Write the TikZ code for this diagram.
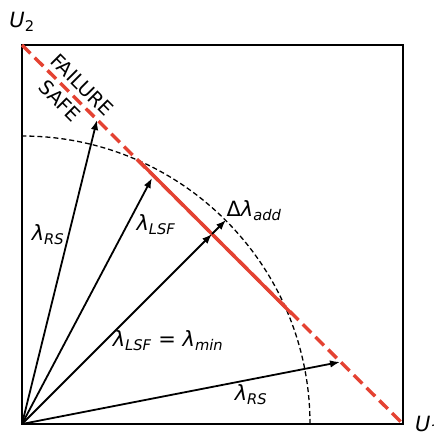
\documentclass[tikz,border=0pt]{standalone}
\usepackage{fontspec}
\setmainfont{DejaVu Sans}
\usepackage{xcolor}
\usetikzlibrary{arrows.meta}
\definecolor{lsfred}{RGB}{228,66,50}
\newcommand{\lam}[1]{\textit{λ}\textsubscript{\itshape #1}}

\begin{document}
\begin{tikzpicture}[x=1pt,y=1pt,
  vec/.style={line width=1.8pt,-{Latex[length=10pt,width=7.5pt]}},
  lbl/.style={font=\fontsize{21}{24}\selectfont,inner sep=0pt},
  zone/.style={font=\fontsize{19.5}{22}\selectfont,inner sep=0pt,rotate=-45}]
  \useasboundingbox (-22,-8) rectangle (412,424);
  % frame and axis labels
  \draw[line width=1.6pt] (0,0) rectangle (381,379);
  \node[lbl] (u2) at (0,402) {\textit{U}\textsubscript{2}};
  \node[lbl,anchor=west] (u1) at (393,-2) {\textit{U}\textsubscript{1}};
  % points used by the vectors
  \coordinate (O) at (0,0);
  \coordinate (tl) at (0,379);
  \coordinate (br) at (381,0);
  \coordinate (rs1) at (75,304);
  \coordinate (lsf) at (130,246);
  \coordinate (mpp) at (190,190);
  \coordinate (add) at (204,204);
  \coordinate (rs2) at (318,62);
  % reliability circle
  \draw[dashed,dash pattern=on 5pt off 3pt,line width=1.3pt]
    (288,0) arc[start angle=0,end angle=90,radius=288];
  % limit state
  \draw[lsfred,line width=3.4pt,dash pattern=on 12pt off 6pt] (tl)--(br);
  \draw[lsfred,line width=3.4pt] (117,263)--(270,110);
  \node[zone] (fail) at (60,339) {FAILURE};
  \node[zone] (safe) at (38,323) {SAFE};
  % vectors
  \draw[vec] (O)--(rs1);
  \draw[vec] (O)--(lsf);
  \draw[vec] (O)--(mpp);
  \draw[vec] (mpp)--(add);
  \draw[vec] (O)--(rs2);
  \node[lbl] (l1) at (26,189) {\lam{RS}};
  \node[lbl] (l2) at (134,199) {\lam{LSF}};
  \node[lbl] (l3) at (232,213) {Δ\lam{add}};
  \node[lbl] (l4) at (146,83) {\lam{LSF} = \lam{min}};
  \node[lbl] (l5) at (229,29) {\lam{RS}};
\end{tikzpicture}
\end{document}
